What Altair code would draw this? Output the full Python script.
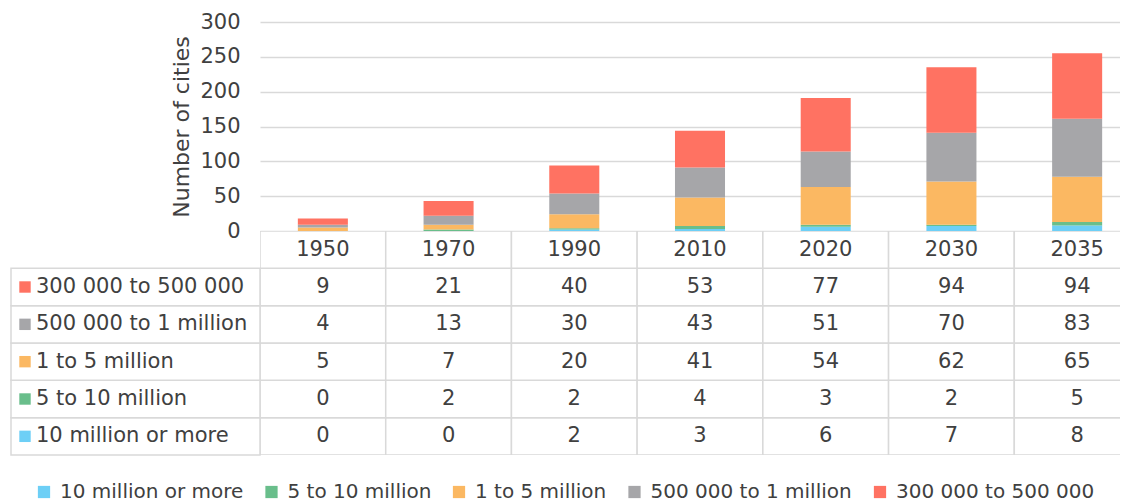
import altair as alt
import pandas as pd

years = ["1950", "1970", "1990", "2010", "2020", "2030", "2035"]
categories = ["10 million or more", "5 to 10 million", "1 to 5 million",
              "500 000 to 1 million", "300 000 to 500 000"]
v_10m = [0, 0, 2, 3, 6, 7, 8]
v_5_10m = [0, 2, 2, 4, 3, 2, 5]
v_1_5m = [5, 7, 20, 41, 54, 62, 65]
v_500k_1m = [4, 13, 30, 43, 51, 70, 83]
v_300k_500k = [9, 21, 40, 53, 77, 94, 94]
colors = ["#6DCFF6", "#69BE8B", "#FBB862", "#A6A6A9", "#FF7262"]
y_ticks = [0, 50, 100, 150, 200, 250, 300]

TEXT = "#404040"
GRID = "#D9D9D9"
FS = 21
W = 860          # visible plot width
FULL = 880       # full width of the 7 year columns (last one is cut off)

series = [v_10m, v_5_10m, v_1_5m, v_500k_1m, v_300k_500k]
recs = []
for i, (cat, vals) in enumerate(zip(categories, series)):
    for yr, v in zip(years, vals):
        recs.append({"year": yr, "category": cat, "value": v, "idx": i, "row": cat})
df = pd.DataFrame(recs)

row_domain = ["header"] + categories[::-1]
header_df = pd.DataFrame({"year": years, "row": ["header"] * len(years)})
cell_df = pd.concat([df[["year", "row"]], header_df], ignore_index=True)
label_df = pd.DataFrame({"category": categories, "row": categories})

color_scale = alt.Scale(domain=categories, range=colors)

bars = alt.Chart(df).mark_bar(clip=True).encode(
    x=alt.X("year:N", sort=years, axis=None,
            scale=alt.Scale(paddingInner=0.602, paddingOuter=0.301, range=[0, FULL])),
    y=alt.Y("value:Q", stack="zero",
            scale=alt.Scale(domain=[0, 300], nice=False),
            axis=alt.Axis(values=y_ticks, title="Number of cities", titleFontSize=22,
                          titleFontWeight="normal", titleColor=TEXT, titlePadding=6,
                          labelFontSize=FS, labelColor=TEXT, labelPadding=20,
                          ticks=False, domain=False, gridColor=GRID, gridWidth=1.5)),
    color=alt.Color("category:N", scale=color_scale,
                    legend=alt.Legend(orient="none", legendX=-226, legendY=460,
                                      direction="horizontal", columns=5, title=None,
                                      symbolType="square", symbolSize=150,
                                      symbolStrokeWidth=0, labelFontSize=20,
                                      labelColor=TEXT, columnPadding=17.5, labelOffset=6,
                                      labelLimit=0, padding=0)),
    order=alt.Order("idx:Q"),
).properties(width=W, height=209)

xt = alt.X("year:N", sort=years, axis=None,
           scale=alt.Scale(paddingInner=0, paddingOuter=0, range=[0, FULL]))
yt = alt.Y("row:N", sort=row_domain, axis=None,
           scale=alt.Scale(domain=row_domain, paddingInner=0, paddingOuter=0))

cells = alt.Chart(cell_df).mark_rect(fill="white", stroke=GRID, strokeWidth=1.5,
                                     clip=True).encode(x=xt, y=yt)
label_cells = alt.Chart(label_df).mark_rect(fill="white", stroke=GRID, strokeWidth=1.5).encode(
    x=alt.value(-249), x2=alt.value(0), y=yt)
squares = alt.Chart(label_df).mark_square(size=130, opacity=1).encode(
    x=alt.value(-235), y=yt,
    color=alt.Color("category:N", scale=color_scale, legend=None))
label_text = alt.Chart(label_df).mark_text(align="left", baseline="middle",
                                           fontSize=FS, color=TEXT).encode(
    x=alt.value(-224), y=yt, text="category:N")
value_text = alt.Chart(df).mark_text(baseline="middle", fontSize=FS, color=TEXT).encode(
    x=xt, y=yt, text="value:Q")
header_text = alt.Chart(header_df).mark_text(baseline="middle", fontSize=FS, color=TEXT).encode(
    x=xt, y=yt, text="year:N")

table = alt.layer(cells, label_cells, squares, label_text, value_text, header_text).properties(
    width=W, height=224)

chart = alt.vconcat(bars, table, spacing=0, bounds="flush").resolve_scale(
    x="independent", y="independent", color="shared"
).properties(
    padding={"left": 2, "top": 3, "right": 0, "bottom": 3}
).configure(font="DejaVu Sans").configure_view(stroke=None)

chart.save("out.html", embed_options={"renderer": "svg", "actions": False})
